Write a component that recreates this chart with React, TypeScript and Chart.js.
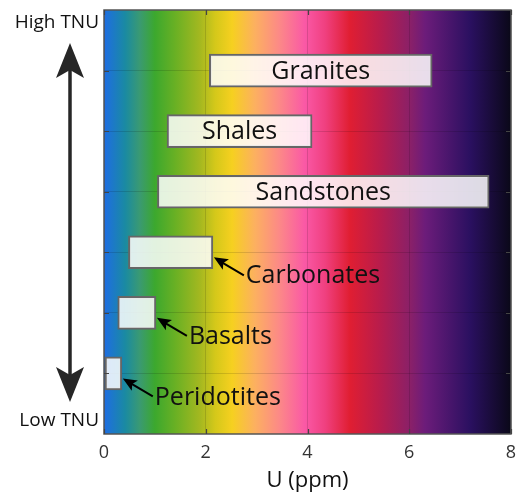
import React, { useEffect, useRef } from 'react';
import { Chart, registerables } from 'chart.js';

Chart.register(...registerables);

// ---- data ----
const rockTypes = ['Peridotites', 'Basalts', 'Carbonates', 'Sandstones', 'Shales', 'Granites'];
const uMin = [0.02, 0.27, 0.48, 1.05, 1.24, 2.07];
const uMax = [0.35, 1.02, 2.14, 7.57, 4.09, 6.45];
const tnuRank = [1, 2, 3, 4, 5, 6];
const labelInside = [false, false, false, true, true, true];
const xTickValues = [0, 2, 4, 6, 8];
const yTickValues = [1, 2, 3, 4, 5, 6];
const xAxisTitle = 'U (ppm)';
const highLabel = 'High TNU';
const lowLabel = 'Low TNU';

// ---- style ----
const FONT = '"Open Sans", "DejaVu Sans", sans-serif';
const spectrumStops: [number, string][] = [
  [0, '#1e6de3'],
  [0.052, '#1a8aa2'],
  [0.088, '#3a9a72'],
  [0.125, '#3ca82e'],
  [0.174, '#68b024'],
  [0.236, '#a4b820'],
  [0.273, '#d4c81a'],
  [0.315, '#f6d020'],
  [0.371, '#fcb060'],
  [0.432, '#fc8888'],
  [0.494, '#fa58a6'],
  [0.543, '#f04080'],
  [0.604, '#e01e32'],
  [0.678, '#b81c4c'],
  [0.752, '#8a2068'],
  [0.789, '#6c1c7a'],
  [0.9, '#2a1060'],
  [1, '#0a0818'],
];

function drawArrowHead(ctx: CanvasRenderingContext2D, tipX: number, tipY: number, fromX: number, fromY: number, len: number, half: number, notch: number) {
  const dx = fromX - tipX;
  const dy = fromY - tipY;
  const d = Math.hypot(dx, dy) || 1;
  const ux = dx / d;
  const uy = dy / d;
  const px = -uy;
  const py = ux;
  ctx.beginPath();
  ctx.moveTo(tipX, tipY);
  ctx.lineTo(tipX + ux * len + px * half, tipY + uy * len + py * half);
  ctx.lineTo(tipX + ux * (len - notch), tipY + uy * (len - notch));
  ctx.lineTo(tipX + ux * len - px * half, tipY + uy * len - py * half);
  ctx.closePath();
  ctx.fill();
}

const decorPlugin = {
  id: 'decor',
  beforeDraw(chart: any) {
    const { ctx, chartArea: a } = chart;
    const g = ctx.createLinearGradient(a.left, 0, a.right, 0);
    spectrumStops.forEach(([p, c]) => g.addColorStop(p, c));
    ctx.save();
    ctx.fillStyle = g;
    ctx.fillRect(a.left, a.top, a.right - a.left, a.bottom - a.top);
    ctx.restore();
  },
  afterDraw(chart: any) {
    const { ctx, chartArea: a, scales } = chart;
    const xs = scales.x;
    const ys = scales.y;
    ctx.save();

    // frame
    ctx.strokeStyle = '#555';
    ctx.lineWidth = 1.5;
    ctx.strokeRect(a.left, a.top, a.right - a.left, a.bottom - a.top);

    // inner ticks
    ctx.strokeStyle = '#444';
    ctx.lineWidth = 1.2;
    ctx.beginPath();
    xTickValues.forEach((v) => {
      const px = Math.round(xs.getPixelForValue(v)) + 0.5;
      ctx.moveTo(px, a.bottom);
      ctx.lineTo(px, a.bottom - 5);
      ctx.moveTo(px, a.top);
      ctx.lineTo(px, a.top + 5);
    });
    yTickValues.forEach((v) => {
      const py = Math.round(ys.getPixelForValue(v)) + 0.5;
      ctx.moveTo(a.left, py);
      ctx.lineTo(a.left + 5, py);
      ctx.moveTo(a.right, py);
      ctx.lineTo(a.right - 5, py);
    });
    ctx.stroke();

    // bar labels
    const meta = chart.getDatasetMeta(0);
    ctx.fillStyle = '#111';
    ctx.font = `25px ${FONT}`;
    ctx.textBaseline = 'middle';
    meta.data.forEach((el: any, i: number) => {
      const { x, y, base } = el.getProps(['x', 'y', 'base'], true);
      const end = Math.max(x, base);
      if (labelInside[i]) {
        ctx.fillStyle = '#111';
        ctx.textAlign = 'center';
        ctx.fillText(rockTypes[i], (x + base) / 2, y + 1);
      } else {
        const tipX = end + 1;
        const tipY = y + 5;
        const tailX = end + 31;
        const tailY = y + 23;
        ctx.strokeStyle = '#000';
        ctx.fillStyle = '#000';
        ctx.lineWidth = 2;
        ctx.beginPath();
        ctx.moveTo(tailX, tailY);
        ctx.lineTo(tipX + 8, tipY + 5);
        ctx.stroke();
        drawArrowHead(ctx, tipX, tipY, tailX, tailY, 14, 6, 3);
        ctx.fillStyle = '#111';
        ctx.textAlign = 'left';
        ctx.fillText(rockTypes[i], end + 33, y + 24);
      }
    });

    // big double arrow
    const ax = a.left - 34;
    const topTip = a.top + 33;
    const botTip = a.bottom - 32;
    ctx.fillStyle = '#262626';
    ctx.strokeStyle = '#262626';
    ctx.lineWidth = 3.5;
    ctx.beginPath();
    ctx.moveTo(ax, topTip + 25);
    ctx.lineTo(ax, botTip - 25);
    ctx.stroke();
    drawArrowHead(ctx, ax, topTip, ax, botTip, 35, 14, 8);
    drawArrowHead(ctx, ax, botTip, ax, topTip, 35, 14, 8);

    // side labels
    ctx.fillStyle = '#111';
    ctx.font = `19px ${FONT}`;
    ctx.textAlign = 'right';
    ctx.textBaseline = 'middle';
    ctx.fillText(highLabel, a.left - 5, a.top + 13);
    ctx.fillText(lowLabel, a.left - 5, a.bottom - 13);

    // axis title
    ctx.font = `22px ${FONT}`;
    ctx.textAlign = 'center';
    ctx.fillText(xAxisTitle, (a.left + a.right) / 2, a.bottom + 47);

    ctx.restore();
  },
};

export default function App() {
  const canvasRef = useRef<HTMLCanvasElement | null>(null);

  useEffect(() => {
    const canvas = canvasRef.current;
    if (!canvas) return;
    const chart = new Chart(canvas, {
      type: 'bar',
      data: {
        datasets: [
          {
            data: tnuRank.map((r, i) => ({ x: [uMin[i], uMax[i]], y: r })) as any,
            backgroundColor: 'rgba(255,255,255,0.85)',
            borderColor: '#666',
            borderWidth: 2,
            borderSkipped: false,
            barThickness: 33,
          },
        ],
      },
      options: {
        indexAxis: 'y',
        responsive: false,
        animation: false,
        events: [],
        layout: { padding: { top: 10, right: 9, left: 0, bottom: 0 } },
        plugins: { legend: { display: false }, tooltip: { enabled: false } },
        scales: {
          x: {
            type: 'linear',
            min: 0,
            max: 8,
            offset: false,
            afterBuildTicks: (s: any) => {
              s.ticks = xTickValues.map((v) => ({ value: v }));
            },
            ticks: { font: { family: FONT, size: 18 }, color: '#333', padding: 8, maxRotation: 0 },
            grid: { color: 'rgba(0,0,0,0.13)', drawTicks: false, offset: false },
            border: { display: false },
            afterFit: (s: any) => {
              s.height = 62;
              s.paddingLeft = 0;
              s.paddingRight = 0;
            },
          },
          y: {
            type: 'linear',
            min: 0,
            max: 7,
            offset: false,
            afterBuildTicks: (s: any) => {
              s.ticks = yTickValues.map((v) => ({ value: v }));
            },
            ticks: { display: false },
            grid: { color: 'rgba(0,0,0,0.13)', drawTicks: false, offset: false },
            border: { display: false },
            afterFit: (s: any) => {
              s.width = 104;
              s.paddingTop = 0;
              s.paddingBottom = 0;
            },
          },
        },
      } as any,
      plugins: [decorPlugin],
    });
    let alive = true;
    if ((document as any).fonts && (document as any).fonts.ready) {
      (document as any).fonts.ready.then(() => {
        if (alive) chart.update();
      });
    }
    return () => {
      alive = false;
      chart.destroy();
    };
  }, []);

  return (
    <div style={{ position: 'absolute', left: 0, top: 0, width: 520, height: 496, background: '#fff' }}>
      <canvas ref={canvasRef} width={520} height={496} style={{ display: 'block' }} />
    </div>
  );
}
